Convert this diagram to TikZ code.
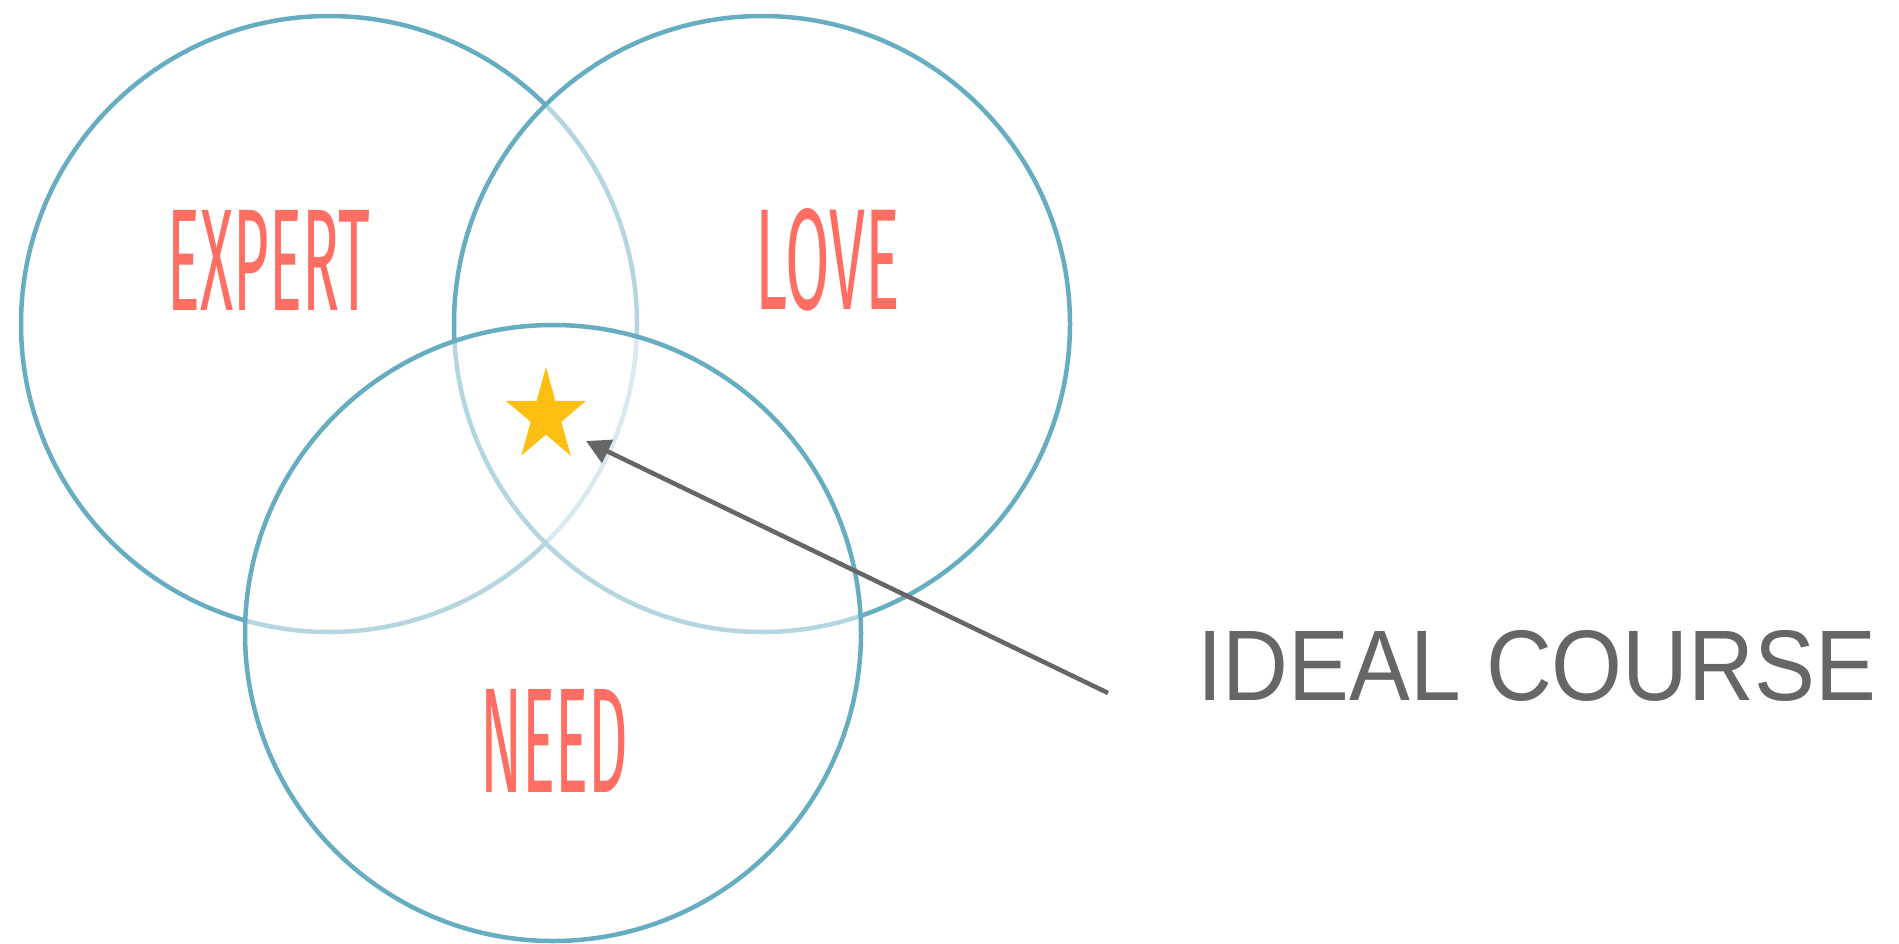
\documentclass[tikz,border=0pt]{standalone}
\usepackage{fontspec}
\usepackage{graphicx}
\usetikzlibrary{shapes.geometric,arrows.meta}
\newfontfamily\wordfont{Fira Sans}
\newfontfamily\labelfont{Liberation Sans}
\definecolor{ringcol}{HTML}{67ADC1}
\definecolor{wordcol}{HTML}{FF6E63}
\definecolor{starcol}{HTML}{FCBF12}
\definecolor{greycol}{HTML}{666666}
\tikzset{
  ring/.style={circle, draw=ringcol, line width=4.5pt, fill=white, fill opacity=0.5,
    inner sep=0pt, minimum size=616pt},
  word/.style={inner sep=0pt, text=wordcol, font=\wordfont},
  pointer/.style={draw=greycol, line width=4.5pt, -{Triangle[length=24pt,width=25pt]}},
  caption/.style={inner sep=0pt, anchor=base west, text=greycol, font=\labelfont}
}
\begin{document}
\begin{tikzpicture}[x=1pt,y=-1pt]
\useasboundingbox (0,0) rectangle (1899,943);
\node[ring] (left) at (329,324) {};
\node[ring] (right) at (762,324) {};
\node[ring] (bottom) at (553,633) {};
\node[word] (expert) at (269,260) {\resizebox{202pt}{100pt}{EXPERT}};
\node[word] (love) at (828,260) {\resizebox{144pt}{101pt}{LOVE}};
\node[word] (need) at (554,741) {\resizebox{148pt}{103pt}{NEED}};
\begin{scope}[shift={(546,416)}, xscale=0.86]
\node[star, star points=5, star point ratio=2.618, minimum size=98pt, inner sep=0pt,
  fill=starcol, transform shape] (star) at (0,0) {};
\end{scope}
\coordinate (tail) at (1108,693);
\coordinate (tip) at (586,441);
\draw[pointer] (tail) -- (tip);
\node[caption] (ideal) at (1197,700) {\resizebox{679pt}{70pt}{IDEAL COURSE}};
\end{tikzpicture}
\end{document}
